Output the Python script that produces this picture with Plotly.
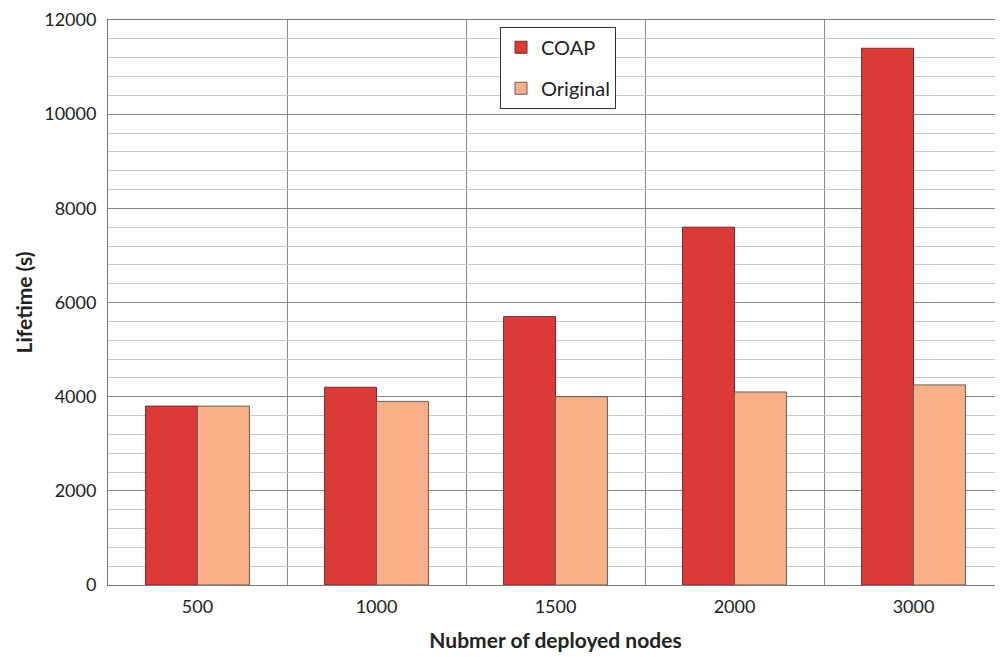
import plotly.graph_objects as go

categories = ["500", "1000", "1500", "2000", "3000"]
coap = [3800, 4200, 5700, 7600, 11400]
original = [3800, 3900, 4000, 4100, 4250]
series_names = ["COAP", "Original"]

positions = list(range(len(categories)))

fig = go.Figure()
fig.add_trace(go.Bar(
    x=positions, y=coap, name=series_names[0],
    marker=dict(color="#dc3a36", line=dict(color="#7a2a28", width=1)),
    legendgroup="a",
))
fig.add_trace(go.Bar(
    x=positions, y=original, name=series_names[1],
    marker=dict(color="#f9b088", line=dict(color="#6b5a50", width=1)),
    legendgroup="b",
))

font_family = "Lato, 'Open Sans', sans-serif"

# page body has an 8px margin, so compensate
fig.update_layout(
    width=995, height=649,
    margin=dict(l=100, r=0, t=12, b=72),
    paper_bgcolor="white", plot_bgcolor="white",
    barmode="group", bargap=0.42, bargroupgap=0,
    font=dict(family=font_family, size=18, color="#222"),
    legend=dict(
        x=0.438, y=0.988, xanchor="left", yanchor="top",
        bgcolor="white", bordercolor="#333", borderwidth=1,
        font=dict(size=20), tracegroupgap=12,
        traceorder="grouped",
    ),
    showlegend=True,
)

fig.update_xaxes(
    range=[-0.5, len(categories) - 0.5],
    tickmode="array", tickvals=positions, ticktext=categories,
    showgrid=False, zeroline=False, automargin=False,
    showline=True, linecolor="#777", linewidth=1, mirror=True,
    ticks="", ticklabelstandoff=5,
    minor=dict(tickmode="linear", tick0=0.5, dtick=1, showgrid=True,
               gridcolor="#888", gridwidth=1),
    title=dict(text="<b>Nubmer of deployed nodes</b>", font=dict(size=21), standoff=17),
    tickfont=dict(size=18),
)
fig.update_yaxes(
    range=[0, 12000], dtick=2000, tick0=0, tickformat="d",
    showgrid=True, gridcolor="#888", gridwidth=1,
    zeroline=False, automargin=False,
    showline=True, linecolor="#777", linewidth=1, mirror=True,
    ticks="", ticklabelstandoff=7,
    minor=dict(dtick=400, showgrid=True, gridcolor="#c8c8c8", gridwidth=1),
    title=dict(text="<b>Lifetime (s)</b>", font=dict(size=21), standoff=5),
    tickfont=dict(size=18),
)

fig.write_html("out.html")
